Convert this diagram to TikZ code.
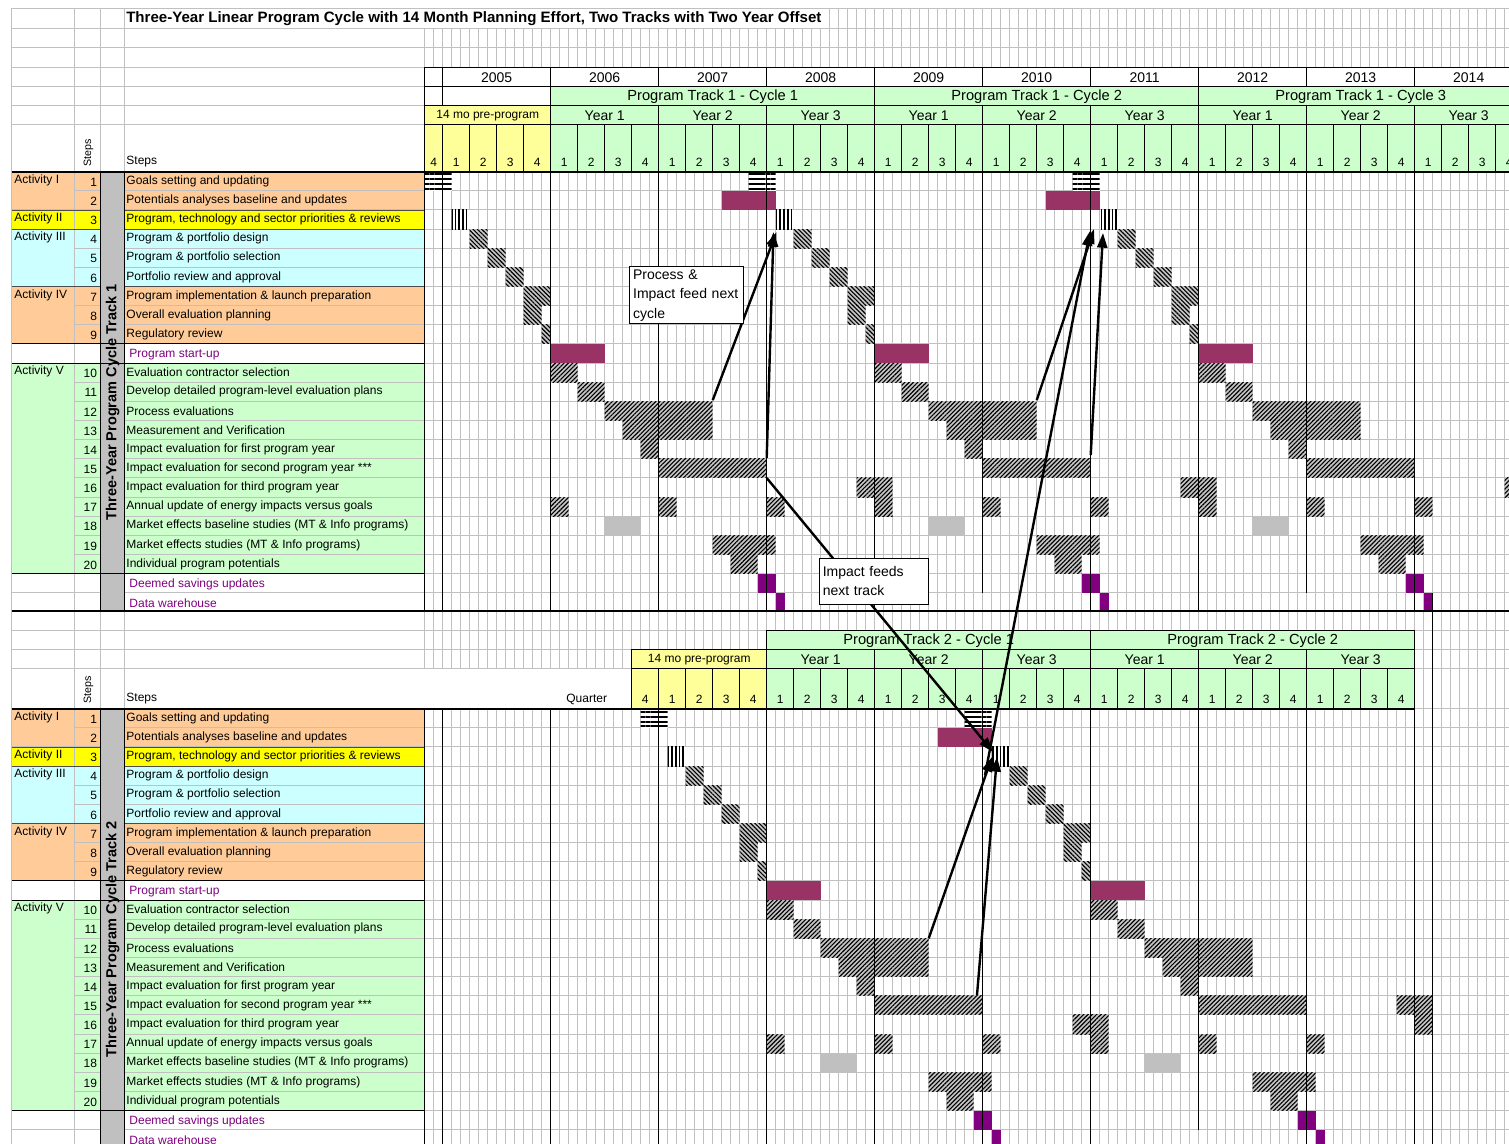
\documentclass[tikz,border=0pt]{standalone}
\usepackage{fontspec}
\setmainfont{Liberation Sans}
\usetikzlibrary{arrows.meta,patterns.meta}

\definecolor{xlgrid}{HTML}{C0C0C0}
\definecolor{xlorange}{HTML}{FFCC99}
\definecolor{xlyellow}{HTML}{FFFF00}
\definecolor{xlpale}{HTML}{FFFF99}
\definecolor{xlcyan}{HTML}{CCFFFF}
\definecolor{xlgreen}{HTML}{CCFFCC}
\definecolor{xlplum}{HTML}{993366}
\definecolor{xlpurple}{HTML}{800080}
\definecolor{xlsilver}{HTML}{C0C0C0}

\tikzset{
  gridln/.style={draw=xlgrid,line width=0.75pt},
  cellbd/.style={draw=black,line width=0.75pt},
  rule/.style={draw=black,line width=1.3pt},
  small/.style={inner sep=0.5pt,font=\fontsize{9}{10}\selectfont},
  big/.style={inner sep=0.5pt,font=\fontsize{10.5}{12}\selectfont},
  bigger/.style={inner sep=0.5pt,font=\fontsize{11}{12}\selectfont},
  hstripe/.style={fill=white,postaction={pattern={Lines[angle=0,distance=3.6pt,line width=1.5pt]}}},
  vstripe/.style={fill=white,postaction={pattern={Lines[angle=90,distance=2.8pt,line width=1.2pt]}}},
  dnhatch/.style={fill=gray!45,postaction={pattern={Lines[angle=-45,distance=2.3pt,line width=0.85pt]}}},
  uphatch/.style={fill=gray!45,postaction={pattern={Lines[angle=45,distance=2.3pt,line width=0.85pt]}}},
  plum/.style={fill=xlplum},
  purp/.style={fill=xlpurple},
  silver/.style={fill=xlsilver},
  feed/.style={line width=1.8pt,-{Triangle[length=11pt,width=7.5pt]}},
  callout/.style={draw=black,line width=0.75pt,fill=white,align=left,anchor=north west,
    font=\fontsize{10.5}{14.6}\selectfont,inner sep=2pt}
}

% one bar: style, first month, last month, row
\newcommand\gbar[4]{\fill[#1] (#2,#4) rectangle (#3,#4+1);}
% planning steps 1 and 3-9 before a cycle
\newcommand\planblocks[1]{%
  \gbar{hstripe}{#1}{#1+3}{0}%
  \gbar{vstripe}{#1+3}{#1+5}{2}%
  \gbar{dnhatch}{#1+5}{#1+7}{3}%
  \gbar{dnhatch}{#1+7}{#1+9}{4}%
  \gbar{dnhatch}{#1+9}{#1+11}{5}%
  \gbar{dnhatch}{#1+11}{#1+14}{6}%
  \gbar{dnhatch}{#1+11}{#1+13}{7}%
  \gbar{dnhatch}{#1+13}{#1+14}{8}}
% the three program years of a cycle
\newcommand\cycleblocks[1]{%
  \gbar{plum}{#1+14}{#1+20}{9}%
  \gbar{uphatch}{#1+14}{#1+17}{10}%
  \gbar{uphatch}{#1+17}{#1+20}{11}%
  \gbar{uphatch}{#1+20}{#1+32}{12}%
  \gbar{uphatch}{#1+22}{#1+32}{13}%
  \gbar{uphatch}{#1+24}{#1+26}{14}%
  \gbar{uphatch}{#1+26}{#1+38}{15}%
  \foreach \a in {14,26,38} {\gbar{uphatch}{#1+\a}{#1+\a+2}{17}}%
  \gbar{silver}{#1+20}{#1+24}{18}%
  \gbar{uphatch}{#1+32}{#1+39}{19}%
  \gbar{uphatch}{#1+34}{#1+37}{20}%
  \gbar{purp}{#1+37}{#1+39}{21}%
  \gbar{purp}{#1+39}{#1+40}{22}}
\newcommand\feedblocks[2]{%
  \gbar{uphatch}{#1+48}{#1+52}{#2}%
  \gbar{uphatch}{#1+50}{#1+52}{#2+1}}

\newcommand\steplist{0/1/Goals setting and updating,
  1/2/Potentials analyses baseline and updates,
  2/3/{Program, technology and sector priorities \& reviews},
  3/4/Program \& portfolio design,
  4/5/Program \& portfolio selection,
  5/6/Portfolio review and approval,
  6/7/Program implementation \& launch preparation,
  7/8/Overall evaluation planning,
  8/9/Regulatory review,
  10/10/Evaluation contractor selection,
  11/11/Develop detailed program-level evaluation plans,
  12/12/Process evaluations,
  13/13/Measurement and Verification,
  14/14/Impact evaluation for first program year,
  15/15/Impact evaluation for second program year ***,
  16/16/Impact evaluation for third program year,
  17/17/Annual update of energy impacts versus goals,
  18/18/Market effects baseline studies (MT \& Info programs),
  19/19/Market effects studies (MT \& Info programs),
  20/20/Individual program potentials}

% left table of one track: id, top y, label
\newcommand\steptable[3]{%
\begin{scope}[shift={(0,#2)},y=-14.355pt]
  \fill[xlorange] (11.7,0) rectangle (100.7,2) (124,0) rectangle (424.7,2)
                  (11.7,6) rectangle (100.7,9) (124,6) rectangle (424.7,9);
  \fill[xlyellow] (11.7,2) rectangle (100.7,3) (124,2) rectangle (424.7,3);
  \fill[xlcyan] (11.7,3) rectangle (100.7,6) (124,3) rectangle (424.7,6);
  \fill[xlgreen] (11.7,10) rectangle (100.7,21) (124,10) rectangle (424.7,21);
  \fill[xlsilver] (100.7,0) rectangle (124,23);
  \foreach \r in {1,...,22} \draw[gridln] (74.3,\r) -- (100.7,\r) (124,\r) -- (424.7,\r);
  \foreach \r in {2,3,6,9,10,21,22} \draw[gridln] (11.7,\r) -- (74.3,\r);
  \draw[gridln] (11.7,0) -- (11.7,23) (74.3,0) -- (74.3,23);
  \foreach \r in {2,3,6} \draw[draw=black!70,line width=0.6pt] (11.7,\r) -- (100.7,\r) (124,\r) -- (424.7,\r);
  \foreach \r in {0,9,10,21,23} \draw[cellbd] (11.7,\r) -- (424.7,\r);
  \draw[cellbd] (100.7,0) -- (100.7,23) (124,0) -- (124,23) (424.7,0) -- (424.7,23);
  \foreach \r/\a in {0/I,2/II,3/III,6/IV,10/V}
    \node[small,anchor=west] (act#1-\r) at (13.5,\r+0.45) {Activity \a};
  \foreach \r/\n/\t in \steplist {
    \node[small,anchor=east] (num#1-\r) at (98,\r+0.55) {\n};
    \node[small,anchor=west] (txt#1-\r) at (125.5,\r+0.5) {\t};}
  \foreach \r/\t in {9/Program start-up,21/Deemed savings updates,22/Data warehouse}
    \node[small,anchor=west,text=xlpurple] (ext#1-\r) at (128.5,\r+0.55) {\t};
  \node[rotate=90,inner sep=0pt,font=\bfseries\fontsize{10.9}{12}\selectfont] (lbl#1) at (112.6,12.05) {#3};
\end{scope}}

\begin{document}
\begin{tikzpicture}[x=0.75pt,y=-0.75pt]
\useasboundingbox (0,0) rectangle (1509,1144);
\clip (0,0) rectangle (1509,1144);
\fill[white] (0,0) rectangle (1509,1144);

% sheet grid
\foreach \m in {0,...,121}
  \draw[gridln] (424.7+9*\m,8.3) -- (424.7+9*\m,1144);
\foreach \y in {8.3,28.3,47.7,67.3,611,630.5,649.7,668.8}
  \draw[gridln] (11.7,\y) -- (1509,\y);
\foreach \y in {86.7,106,125}
  \draw[gridln] (11.7,\y) -- (424.7,\y);
\foreach \r in {0,...,23}
  \draw[gridln] (424.7,171.7+19.14*\r) -- (1509,171.7+19.14*\r)
                (424.7,708.7+19.14*\r) -- (1509,708.7+19.14*\r);
\foreach \x in {11.7,74.3,100.7,124}
  \draw[gridln] (\x,8.3) -- (\x,171.7) (\x,611) -- (\x,708.7);

% title
\fill[white] (124.5,8.9) rectangle (824,27.8);
\node[anchor=west,inner sep=0pt,font=\bfseries\fontsize{11.3}{13}\selectfont] (title) at (126,18.8)
  {Three-Year Linear Program Cycle with 14 Month Planning Effort, Two Tracks with Two Year Offset};

% track 1 header
\node[small,anchor=west] (hd1) at (125.5,162) {Steps};
\node[rotate=90,anchor=west,inner sep=0pt,font=\fontsize{8}{9}\selectfont] (hv1) at (88.5,167) {Steps};
\draw[cellbd,fill=white] (424.7,67.3) rectangle (442.7,86.7);
\foreach \i in {0,...,9} {
  \pgfmathsetmacro\xa{442.7+108*\i}
  \pgfmathtruncatemacro\yr{2005+\i}
  \draw[cellbd,fill=white] (\xa,67.3) rectangle (\xa+108,86.7);
  \node[big] (yr\yr) at (\xa+54,77.3) {\yr};}
\draw[cellbd,fill=white] (424.7,86.7) rectangle (442.7,106) (442.7,86.7) rectangle (550.7,106);
\foreach \c in {1,2,3} {
  \pgfmathsetmacro\xa{550.7+324*(\c-1)}
  \draw[cellbd,fill=xlgreen] (\xa,86.7) rectangle (\xa+324,106);
  \node[bigger] (tk1c\c) at (\xa+162,96.6) {Program Track 1 - Cycle \c};}
\draw[cellbd,fill=xlpale] (424.7,106) rectangle (550.7,125);
\node[small] (pre1) at (487.7,115.8) {14 mo pre-program};
\foreach \i in {0,...,8} {
  \pgfmathsetmacro\xa{550.7+108*\i}
  \pgfmathtruncatemacro\py{mod(\i,3)+1}
  \draw[cellbd,fill=xlgreen] (\xa,106) rectangle (\xa+108,125);
  \node[big] (py1-\i) at (\xa+54,115.6) {Year \py};}
\foreach \xa/\xb/\q [count=\i] in {424.7/442.7/4,442.7/469.7/1,469.7/496.7/2,496.7/523.7/3,523.7/550.7/4} {
  \draw[cellbd,fill=xlpale] (\xa,125) rectangle (\xb,171.7);
  \node[small] (pq1-\i) at ({(\xa+\xb)/2},162.5) {\q};}
\foreach \i in {0,...,35} {
  \pgfmathsetmacro\xa{550.7+27*\i}
  \pgfmathtruncatemacro\q{mod(\i,4)+1}
  \draw[cellbd,fill=xlgreen] (\xa,125) rectangle (\xa+27,171.7);
  \node[small] (gq1-\i) at (\xa+13.5,162.5) {\q};}

% track 2 header
\fill[white] (124.5,669.3) rectangle (631.7,708.2);
\node[small,anchor=west] (hd2) at (125.5,699) {Steps};
\node[rotate=90,anchor=west,inner sep=0pt,font=\fontsize{8}{9}\selectfont] (hv2) at (88.5,704) {Steps};
\node[small,anchor=east] (qtr) at (608,699.5) {Quarter};
\foreach \c in {1,2} {
  \pgfmathsetmacro\xa{766.7+324*(\c-1)}
  \draw[cellbd,fill=xlgreen] (\xa,630.5) rectangle (\xa+324,649.7);
  \node[bigger] (tk2c\c) at (\xa+162,640.4) {Program Track 2 - Cycle \c};}
\draw[cellbd,fill=xlpale] (631.7,649.7) rectangle (766.7,668.8);
\node[small] (pre2) at (699.2,659.6) {14 mo pre-program};
\foreach \i in {0,...,5} {
  \pgfmathsetmacro\xa{766.7+108*\i}
  \pgfmathtruncatemacro\py{mod(\i,3)+1}
  \draw[cellbd,fill=xlgreen] (\xa,649.7) rectangle (\xa+108,668.8);
  \node[big] (py2-\i) at (\xa+54,659.4) {Year \py};}
\foreach \xa/\xb/\q [count=\i] in {631.7/658.7/4,658.7/685.7/1,685.7/712.7/2,712.7/739.7/3,739.7/766.7/4} {
  \draw[cellbd,fill=xlpale] (\xa,668.8) rectangle (\xb,708.7);
  \node[small] (pq2-\i) at ({(\xa+\xb)/2},699.5) {\q};}
\foreach \i in {0,...,23} {
  \pgfmathsetmacro\xa{766.7+27*\i}
  \pgfmathtruncatemacro\q{mod(\i,4)+1}
  \draw[cellbd,fill=xlgreen] (\xa,668.8) rectangle (\xa+27,708.7);
  \node[small] (gq2-\i) at (\xa+13.5,699.5) {\q};}

% step tables
\steptable{1}{171.7}{Three-Year Program Cycle Track 1}
\steptable{2}{708.7}{Three-Year Program Cycle Track 2}

% track 1 bars
\begin{scope}[shift={(424.7,171.7)},x=6.75pt,y=-14.355pt]
  \foreach \k in {0,36,72} {\planblocks{\k}\cycleblocks{\k}\feedblocks{\k}{16}}
  \foreach \k in {36,72} {\gbar{plum}{\k-3}{\k+3}{1}}
\end{scope}
% track 2 bars
\begin{scope}[shift={(424.7,708.7)},x=6.75pt,y=-14.355pt]
  \foreach \k in {24,60} {\planblocks{\k}\cycleblocks{\k}}
  \gbar{plum}{57}{63}{1}
  \feedblocks{24}{16}
  \feedblocks{60}{15}
\end{scope}

% year lines
\foreach \m in {0,2,14,26,38,50,74,86,110}
  \draw[cellbd] (424.7+9*\m,171.7) -- (424.7+9*\m,611);
\foreach \m in {62,98}
  \draw[cellbd] (424.7+9*\m,171.7) -- (424.7+9*\m,592.8);
\foreach \m in {0,2,14,26,38,50,62,74,98,110}
  \draw[cellbd] (424.7+9*\m,708.7) -- (424.7+9*\m,1144);
\draw[cellbd] (1198.7,708.7) -- (1198.7,1129.8);
\draw[cellbd] (1432.7,592.8) -- (1432.7,1144);
\draw[rule] (11.7,171.7) -- (1509,171.7);
\draw[rule] (11.7,611) -- (1509,611);
\draw[rule] (11.7,708.7) -- (1414.7,708.7);

% feedback arrows
\coordinate (c1proc) at (712.7,400.2);
\coordinate (c1imp) at (766.7,457.8);
\coordinate (c1out) at (766.7,478);
\coordinate (c2in) at (776.5,232);
\coordinate (c2inb) at (773.5,232);
\coordinate (c2proc) at (1036.7,400.2);
\coordinate (c2imp) at (1090.7,455);
\coordinate (c3in) at (1094,229);
\coordinate (c3inb) at (1103,233);
\coordinate (c3inc) at (1090,231);
\coordinate (t2proc) at (928.7,938.4);
\coordinate (t2imp) at (977,995);
\coordinate (t2up) at (985,775);
\coordinate (t2in) at (993,752);
\coordinate (t2inb) at (992,757);
\coordinate (t2inc) at (997,757);
\draw[feed] (c1proc) -- (c2in);
\draw[feed] (c1imp) -- (c2inb);
\draw[feed] (c1out) -- (t2in);
\draw[feed] (c2proc) -- (c3in);
\draw[feed] (c2imp) -- (c3inb);
\draw[feed] (t2up) -- (c3inc);
\draw[feed] (t2proc) -- (t2inb);
\draw[feed] (t2imp) -- (t2inc);

% callouts
\node[callout,minimum width=85pt,minimum height=43pt,text width=80pt] (procbox) at (629.3,266)
  {Process \&\\Impact feed next\\cycle};
\node[callout,minimum width=81.5pt,minimum height=34.5pt,text width=77pt] (impbox) at (819.3,557.5)
  {Impact feeds\\next track};
\end{tikzpicture}
\end{document}
